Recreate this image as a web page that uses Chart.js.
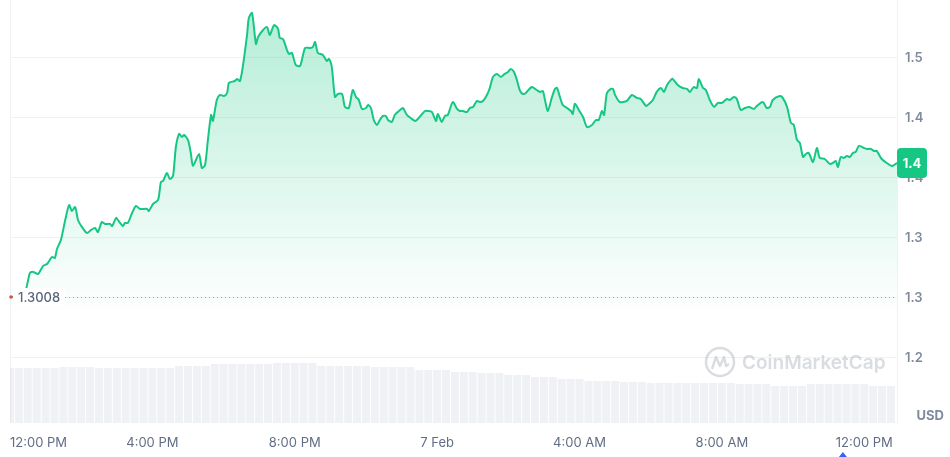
<!DOCTYPE html>
<html>
<head>
<meta charset="utf-8">
<script src="https://cdn.jsdelivr.net/npm/chart.js@4.4.1/dist/chart.umd.min.js"></script>
<style>
  html, body { margin: 0; padding: 0; background: #fff; }
  #wrap { width: 950px; height: 457px; position: relative; }
</style>
</head>
<body>
<div id="wrap"><canvas id="priceChart"></canvas></div>
<script>
// hours since 12:00 PM (6 Feb)
const hours = [
  0, 0.22, 0.42, 0.51, 0.56, 0.65, 0.79, 0.93, 1.04, 1.18, 1.26, 1.32, 1.43, 1.54, 1.66, 1.74, 1.83, 1.91,
  2.02, 2.16, 2.28, 2.39, 2.47, 2.58, 2.67, 2.81, 2.87, 2.98, 3.03, 3.17, 3.23, 3.31, 3.43, 3.54, 3.65, 3.85,
  3.90, 4.02, 4.16, 4.24, 4.30, 4.41, 4.49, 4.58, 4.66, 4.75, 4.83, 4.89, 5.00, 5.08, 5.14, 5.31, 5.39, 5.48,
  5.56, 5.65, 5.70, 5.81, 5.90, 6.01, 6.10, 6.15, 6.32, 6.38, 6.46, 6.54, 6.66, 6.71, 6.80, 6.91, 6.97, 7.11,
  7.22, 7.30, 7.42, 7.53, 7.58, 7.67, 7.78, 7.84, 7.92, 8.03, 8.15, 8.29, 8.43, 8.51, 8.57, 8.65, 8.79, 8.90,
  8.96, 9.04, 9.13, 9.21, 9.33, 9.41, 9.52, 9.63, 9.72, 9.80, 9.89, 10.00, 10.06, 10.14, 10.22, 10.31, 10.39,
  10.48, 10.56, 10.62, 10.73, 10.81, 10.96, 11.04, 11.15, 11.29, 11.38, 11.46, 11.66, 11.74, 11.85, 11.97,
  12.02, 12.13, 12.22, 12.30, 12.44, 12.56, 12.64, 12.72, 12.84, 12.92, 13.01, 13.12, 13.20, 13.29, 13.40,
  13.48, 13.57, 13.68, 13.79, 13.90, 13.99, 14.07, 14.16, 14.24, 14.33, 14.41, 14.49, 14.66, 14.80, 14.89,
  14.97, 15.03, 15.11, 15.22, 15.31, 15.37, 15.45, 15.53, 15.65, 15.76, 15.81, 15.87, 15.98, 16.10, 16.21,
  16.35, 16.46, 16.54, 16.63, 16.69, 16.77, 16.88, 16.94, 17.00, 17.13, 17.33, 17.47, 17.61, 17.72, 17.87,
  17.95, 18.06, 18.17, 18.29, 18.37, 18.46, 18.57, 18.62, 18.76, 18.90, 19.02, 19.10, 19.21, 19.30, 19.35,
  19.47, 19.55, 19.66, 19.78, 19.89, 20.00, 20.14, 20.22, 20.34, 20.42, 20.53, 20.65, 20.76, 20.90, 20.98,
  21.15, 21.26, 21.35, 21.43, 21.63, 21.71, 21.83, 21.94, 22.02, 22.11, 22.19, 22.28, 22.36, 22.44, 22.56,
  22.67, 22.75, 22.89, 23.03, 23.12, 23.20, 23.26, 23.34, 23.43, 23.51, 23.60, 23.68, 23.76, 23.85, 23.99,
  24.07, 24.19, 24.27, 24.35, 24.49, 24.63, 24.78, 24.92
];
const prices = [
  1.3008, 1.3008, 1.3050, 1.3150, 1.3208, 1.3217, 1.3200, 1.3267, 1.3283, 1.3342, 1.3333, 1.3408, 1.3483, 1.3633, 1.3775, 1.3725, 1.3758, 1.3650,
  1.3592, 1.3542, 1.3567, 1.3583, 1.3550, 1.3633, 1.3617, 1.3617, 1.3600, 1.3667, 1.3650, 1.3600, 1.3625, 1.3625, 1.3708, 1.3767, 1.3742, 1.3742,
  1.3725, 1.3783, 1.3817, 1.3967, 1.3975, 1.4042, 1.3992, 1.4017, 1.4258, 1.4367, 1.4342, 1.4358, 1.4317, 1.4208, 1.4100, 1.4200, 1.4083, 1.4108,
  1.4317, 1.4525, 1.4475, 1.4650, 1.4692, 1.4683, 1.4708, 1.4792, 1.4808, 1.4825, 1.4808, 1.4925, 1.5192, 1.5333, 1.5375, 1.5117, 1.5175, 1.5233,
  1.5258, 1.5192, 1.5275, 1.5242, 1.5167, 1.5158, 1.5067, 1.5033, 1.5042, 1.4942, 1.4933, 1.5083, 1.5083, 1.5092, 1.5133, 1.5042, 1.5025, 1.4975,
  1.4992, 1.4925, 1.4675, 1.4700, 1.4700, 1.4592, 1.4583, 1.4733, 1.4675, 1.4650, 1.4575, 1.4583, 1.4608, 1.4583, 1.4483, 1.4442, 1.4483,
  1.4517, 1.4517, 1.4483, 1.4467, 1.4525, 1.4567, 1.4583, 1.4525, 1.4492, 1.4475, 1.4492, 1.4558, 1.4558, 1.4550, 1.4475,
  1.4533, 1.4467, 1.4517, 1.4525, 1.4633, 1.4575, 1.4558, 1.4558, 1.4550, 1.4583, 1.4592, 1.4642, 1.4633, 1.4642, 1.4692,
  1.4750, 1.4842, 1.4867, 1.4842, 1.4867, 1.4883, 1.4908, 1.4883, 1.4817, 1.4725, 1.4700, 1.4708, 1.4758, 1.4733, 1.4717,
  1.4725, 1.4650, 1.4558, 1.4667, 1.4742, 1.4750, 1.4675, 1.4608, 1.4583, 1.4558, 1.4533, 1.4617, 1.4567, 1.4508, 1.4425,
  1.4442, 1.4483, 1.4483, 1.4558, 1.4525, 1.4708, 1.4742, 1.4742, 1.4692, 1.4633, 1.4642, 1.4692, 1.4667, 1.4658, 1.4600,
  1.4617, 1.4650, 1.4717, 1.4750, 1.4717, 1.4775, 1.4817, 1.4825, 1.4775, 1.4750, 1.4742, 1.4717, 1.4758, 1.4750, 1.4825,
  1.4750, 1.4733, 1.4650, 1.4592, 1.4625, 1.4625, 1.4658, 1.4650, 1.4675, 1.4658, 1.4567, 1.4583, 1.4592, 1.4575, 1.4600,
  1.4633, 1.4583, 1.4592, 1.4650, 1.4683, 1.4667, 1.4592, 1.4458, 1.4442, 1.4317, 1.4292, 1.4175, 1.4200, 1.4208, 1.4133,
  1.4250, 1.4167, 1.4158, 1.4117, 1.4125, 1.4142, 1.4092, 1.4175, 1.4167, 1.4183, 1.4175, 1.4208, 1.4217, 1.4267, 1.4250,
  1.4242, 1.4242, 1.4225, 1.4225, 1.4158, 1.4125, 1.4100, 1.4125
];
// rolling volume (USD M), one bar per 15 minutes
const volumes = [
  55, 55, 55, 55, 55, 55, 56, 56, 56, 56,
  55, 55, 55, 55, 55, 55, 55, 55, 55, 57,
  57, 57, 57, 59, 59, 59, 59, 59, 59, 59,
  60, 60, 60, 60, 60, 57, 57, 57, 57, 57,
  57, 56, 56, 56, 56, 56, 53, 53, 53, 53,
  51, 51, 51, 50, 50, 50, 48, 48, 48, 46,
  46, 46, 44, 44, 44, 42, 42, 42, 42, 41,
  41, 41, 40, 40, 40, 40, 40, 40, 40, 40,
  40, 40, 39, 39, 39, 39, 37, 37, 37, 37,
  39, 39, 39, 39, 39, 39, 39, 37, 37, 37
];
const volumeStep = 0.25;

const xTickHours = [0, 4, 8, 12, 16, 20, 24];
const xTickLabels = ['12:00 PM', '4:00 PM', '8:00 PM', '7 Feb', '4:00 AM', '8:00 AM', '12:00 PM'];
const yTickValues = [1.25, 1.30, 1.35, 1.40, 1.45, 1.50];
const yTickLabels = ['1.2', '1.3', '1.3', '1.4', '1.4', '1.5'];
const openPrice = 1.3008;
const openLabel = '1.3008';
const lastLabel = '1.4';

const green = '#16c784';
const labelGray = '#808a9d';
const fontFamily = 'Inter, "Noto Sans", sans-serif';

const priceData = hours.map((h, i) => ({ x: h, y: prices[i] }));
const volumeData = volumes.map((v, i) => ({ x: i * volumeStep, y: v }));

const cmcOverlay = {
    id: 'cmcOverlay',
    beforeDatasetsDraw(chart) {
        const { ctx, chartArea, scales: { y } } = chart;
        ctx.save();
        // left frame line
        ctx.strokeStyle = '#eff2f5';
        ctx.lineWidth = 1;
        ctx.beginPath();
        ctx.moveTo(chartArea.left + 0.5, chartArea.top);
        ctx.lineTo(chartArea.left + 0.5, chartArea.bottom);
        ctx.stroke();

        // dotted open price line
        const yOpen = Math.round(y.getPixelForValue(openPrice)) + 0.5;
        ctx.strokeStyle = '#a1a7bb';
        ctx.setLineDash([1, 3]);
        ctx.beginPath();
        ctx.moveTo(chartArea.left + 55, yOpen);
        ctx.lineTo(chartArea.right, yOpen);
        ctx.stroke();
        ctx.setLineDash([]);

        // watermark
        const wx = chartArea.right - 177, wy = 362;
        ctx.strokeStyle = 'rgba(128, 138, 157, 0.3)';
        ctx.lineWidth = 2.5;
        ctx.beginPath();
        ctx.arc(wx, wy, 14, 0, Math.PI * 2);
        ctx.stroke();
        ctx.lineWidth = 2.4;
        ctx.lineJoin = 'round';
        ctx.beginPath();
        ctx.moveTo(wx - 8, wy + 7);
        ctx.lineTo(wx - 4, wy - 5);
        ctx.lineTo(wx, wy + 4);
        ctx.lineTo(wx + 4, wy - 5);
        ctx.lineTo(wx + 6, wy + 4);
        ctx.lineTo(wx + 9, wy + 2);
        ctx.stroke();
        ctx.fillStyle = 'rgba(128, 138, 157, 0.3)';
        ctx.font = `600 19px ${fontFamily}`;
        ctx.textAlign = 'left';
        ctx.textBaseline = 'middle';
        ctx.fillText('CoinMarketCap', wx + 22, wy + 1);
        ctx.restore();
    },
    afterDatasetsDraw(chart) {
        const { ctx, chartArea, scales: { x, y } } = chart;
        ctx.save();

        // open price tag
        const yOpen = y.getPixelForValue(openPrice);
        ctx.fillStyle = '#ffffff';
        ctx.beginPath();
        ctx.roundRect(chartArea.left + 3, yOpen - 9, 52, 18, 4);
        ctx.fill();
        ctx.fillStyle = '#e74c3c';
        ctx.beginPath();
        ctx.arc(chartArea.left + 1, yOpen, 1.8, 0, Math.PI * 2);
        ctx.fill();
        ctx.fillStyle = '#58667e';
        ctx.font = `500 13px ${fontFamily}`;
        ctx.textAlign = 'left';
        ctx.textBaseline = 'middle';
        ctx.fillText(openLabel, chartArea.left + 8, yOpen + 1);

        // last price badge
        const yLast = y.getPixelForValue(prices[prices.length - 1]);
        ctx.fillStyle = green;
        ctx.beginPath();
        ctx.roundRect(chartArea.right, yLast - 15, 30, 30, 4);
        ctx.fill();
        ctx.fillStyle = '#ffffff';
        ctx.font = `700 13px ${fontFamily}`;
        ctx.textAlign = 'center';
        ctx.fillText(lastLabel, chartArea.right + 15, yLast + 1);

        // x labels
        ctx.fillStyle = '#616e85';
        ctx.font = `400 13px ${fontFamily}`;
        ctx.textBaseline = 'middle';
        xTickHours.forEach((h, i) => {
            const px = x.getPixelForValue(h);
            ctx.textAlign = i === 0 ? 'left' : 'center';
            ctx.fillText(xTickLabels[i], px, chartArea.bottom + 20);
        });

        // currency
        ctx.fillStyle = labelGray;
        ctx.font = `700 13px ${fontFamily}`;
        ctx.textAlign = 'right';
        ctx.fillText('USD', chart.width - 6, chartArea.bottom - 7);

        // current time caret
        const cx = x.getPixelForValue(23.4);
        ctx.fillStyle = '#3861fb';
        ctx.beginPath();
        ctx.moveTo(cx - 4, chart.height);
        ctx.lineTo(cx, chart.height - 5);
        ctx.lineTo(cx + 4, chart.height);
        ctx.closePath();
        ctx.fill();
        ctx.restore();
    }
};

const ctx = document.getElementById('priceChart').getContext('2d');

new Chart(ctx, {
    data: {
        datasets: [
            {
                type: 'line',
                label: 'Price',
                data: priceData,
                yAxisID: 'y',
                borderColor: green,
                borderWidth: 2,
                pointRadius: 0,
                tension: 0.25,
                fill: 'start',
                order: 1,
                backgroundColor: (c) => {
                    const area = c.chart.chartArea;
                    if (!area) return 'rgba(22,199,132,0.1)';
                    const g = c.chart.ctx.createLinearGradient(0, area.top, 0, c.chart.scales.y.getPixelForValue(1.285));
                    g.addColorStop(0, 'rgba(22, 199, 132, 0.33)');
                    g.addColorStop(1, 'rgba(22, 199, 132, 0)');
                    return g;
                }
            },
            {
                type: 'bar',
                label: 'Volume',
                data: volumeData,
                yAxisID: 'yv',
                backgroundColor: 'rgba(214, 219, 229, 0.4)',
                barPercentage: 0.9,
                categoryPercentage: 1,
                order: 2
            }
        ]
    },
    options: {
        responsive: true,
        maintainAspectRatio: false,
        animation: false,
        layout: { padding: { left: 10, top: 0, right: 0, bottom: 0 } },
        scales: {
            x: {
                type: 'linear',
                offset: false,
                min: 0,
                max: 24.92,
                grid: { display: false },
                border: { display: false },
                ticks: { display: false },
                afterFit(s) { s.height = 34; }
            },
            y: {
                position: 'right',
                min: 1.1958,
                max: 1.5483,
                afterBuildTicks(s) { s.ticks = yTickValues.map(v => ({ value: v })); },
                ticks: {
                    padding: 8,
                    color: labelGray,
                    font: { family: fontFamily, size: 13, weight: '600' },
                    callback: (v, i) => yTickLabels[i]
                },
                grid: { color: '#eff2f5', drawTicks: false },
                border: { display: true, color: '#eff2f5' },
                afterFit(s) { s.width = 53; s.paddingTop = 0; s.paddingBottom = 0; }
            },
            yv: {
                display: false,
                min: 0,
                max: 423
            }
        },
        plugins: {
            legend: { display: false },
            tooltip: { enabled: false }
        }
    },
    plugins: [cmcOverlay]
});
</script>
</body>
</html>
